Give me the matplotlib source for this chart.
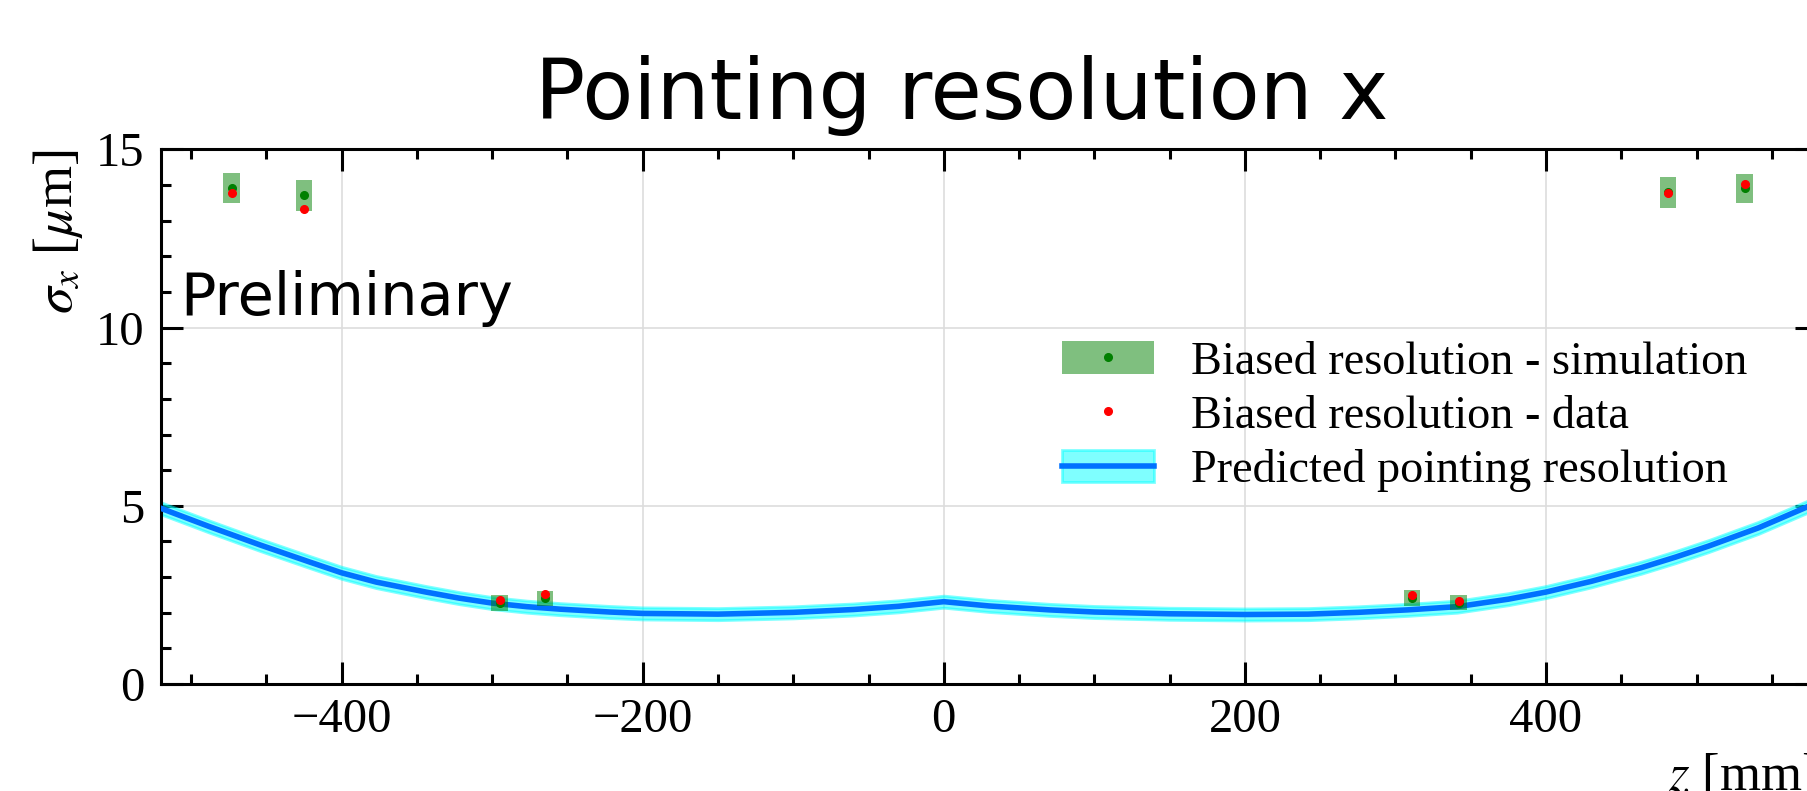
import matplotlib
matplotlib.use("Agg")
import matplotlib.pyplot as plt
from matplotlib.ticker import MultipleLocator
import numpy as np

plt.rcParams['font.family'] = ['Liberation Serif', 'DejaVu Serif']
plt.rcParams['mathtext.fontset'] = 'stix'

# measured points (z in mm, sigma in um)
z_meas = [-473, -425, -295, -265, 311, 342, 481, 532]
sim_res = [13.92, 13.71, 2.28, 2.40, 2.41, 2.28, 13.80, 13.91]
sim_err = [0.43, 0.44, 0.22, 0.21, 0.22, 0.21, 0.43, 0.40]
data_res = [13.77, 13.33, 2.36, 2.53, 2.49, 2.34, 13.77, 14.02]

# predicted pointing resolution curve
z_pred = [-540, -520, -488, -454, -421, -400, -377, -344, -322, -300, -277, -255,
          -222, -200, -150, -100, -60, -30, 0, 30, 70, 100, 150, 200, 242, 275,
          308, 341, 375, 400, 430, 463, 486, 508, 541, 574, 590]
sigma_pred = [5.23, 4.93, 4.42, 3.90, 3.42, 3.12, 2.86, 2.58, 2.41, 2.27, 2.17, 2.10,
              2.02, 1.98, 1.96, 2.01, 2.09, 2.18, 2.31, 2.19, 2.08, 2.02, 1.97, 1.95,
              1.96, 2.01, 2.08, 2.17, 2.38, 2.58, 2.88, 3.26, 3.56, 3.87, 4.38, 4.98,
              5.28]
pred_band = 0.17

fig = plt.figure(figsize=(18.08, 7.91), dpi=100)
ax = fig.add_axes([0.089, 0.1353, 0.916, 0.6757])

z_pred = np.array(z_pred)
sigma_pred = np.array(sigma_pred)
band = ax.fill_between(z_pred, sigma_pred - pred_band, sigma_pred + pred_band,
                       facecolor='cyan', edgecolor='cyan', alpha=0.5, linewidth=2, zorder=2)
line, = ax.plot(z_pred, sigma_pred, color='#0072ff', lw=4, zorder=3)

sim_arr = np.array(sim_res)
err_arr = np.array(sim_err)
bars = ax.bar(z_meas, 2 * err_arr, bottom=sim_arr - err_arr, width=11,
              color='green', alpha=0.5, linewidth=0, zorder=4)
sim_pts, = ax.plot(z_meas, sim_res, 'o', color='green', ms=5.5, zorder=5)
data_pts, = ax.plot(z_meas, data_res, 'o', color='red', ms=5.5, zorder=6)

ax.set_xlim(-520, 580)
ax.set_ylim(0, 15)
ax.xaxis.set_major_locator(MultipleLocator(200))
ax.xaxis.set_minor_locator(MultipleLocator(50))
ax.yaxis.set_major_locator(MultipleLocator(5))
ax.yaxis.set_minor_locator(MultipleLocator(1))
ax.tick_params(which='both', direction='in', top=True, right=True, width=2.2,
               labelsize=35)
ax.tick_params(which='major', length=16)
ax.tick_params(which='minor', length=7.5)
ax.tick_params(axis='x', pad=10)
ax.tick_params(axis='y', pad=12)
for sp in ax.spines.values():
    sp.set_linewidth(2.2)
ax.grid(True, which='major', color='#dddddd', lw=1.2, zorder=0)

ax.set_xlabel(r'$z$ [mm]', fontsize=38, loc='right', labelpad=8)
ax.set_ylabel(r'$\sigma_x$ [$\mu$m]', fontsize=39, loc='top', labelpad=8)

ax.text(-507, 10.36, 'Preliminary', family='DejaVu Sans', fontsize=42.5,
        va='baseline', ha='left')
fig.text(0.532, 0.8496, 'Pointing resolution x', family='DejaVu Sans',
         fontsize=60, ha='center', va='baseline')

ax.legend([(bars[0], sim_pts), data_pts, (band, line)],
          ['Biased resolution - simulation', 'Biased resolution - data',
           'Predicted pointing resolution'],
          loc='upper left', bbox_to_anchor=(1062 / 1808, 1 - 341 / 791),
          bbox_transform=fig.transFigure, frameon=False, borderpad=0,
          borderaxespad=0, fontsize=33.3, handlelength=2.0, handletextpad=0.8,
          labelspacing=0.25)

fig.savefig('out.png', dpi=100)
